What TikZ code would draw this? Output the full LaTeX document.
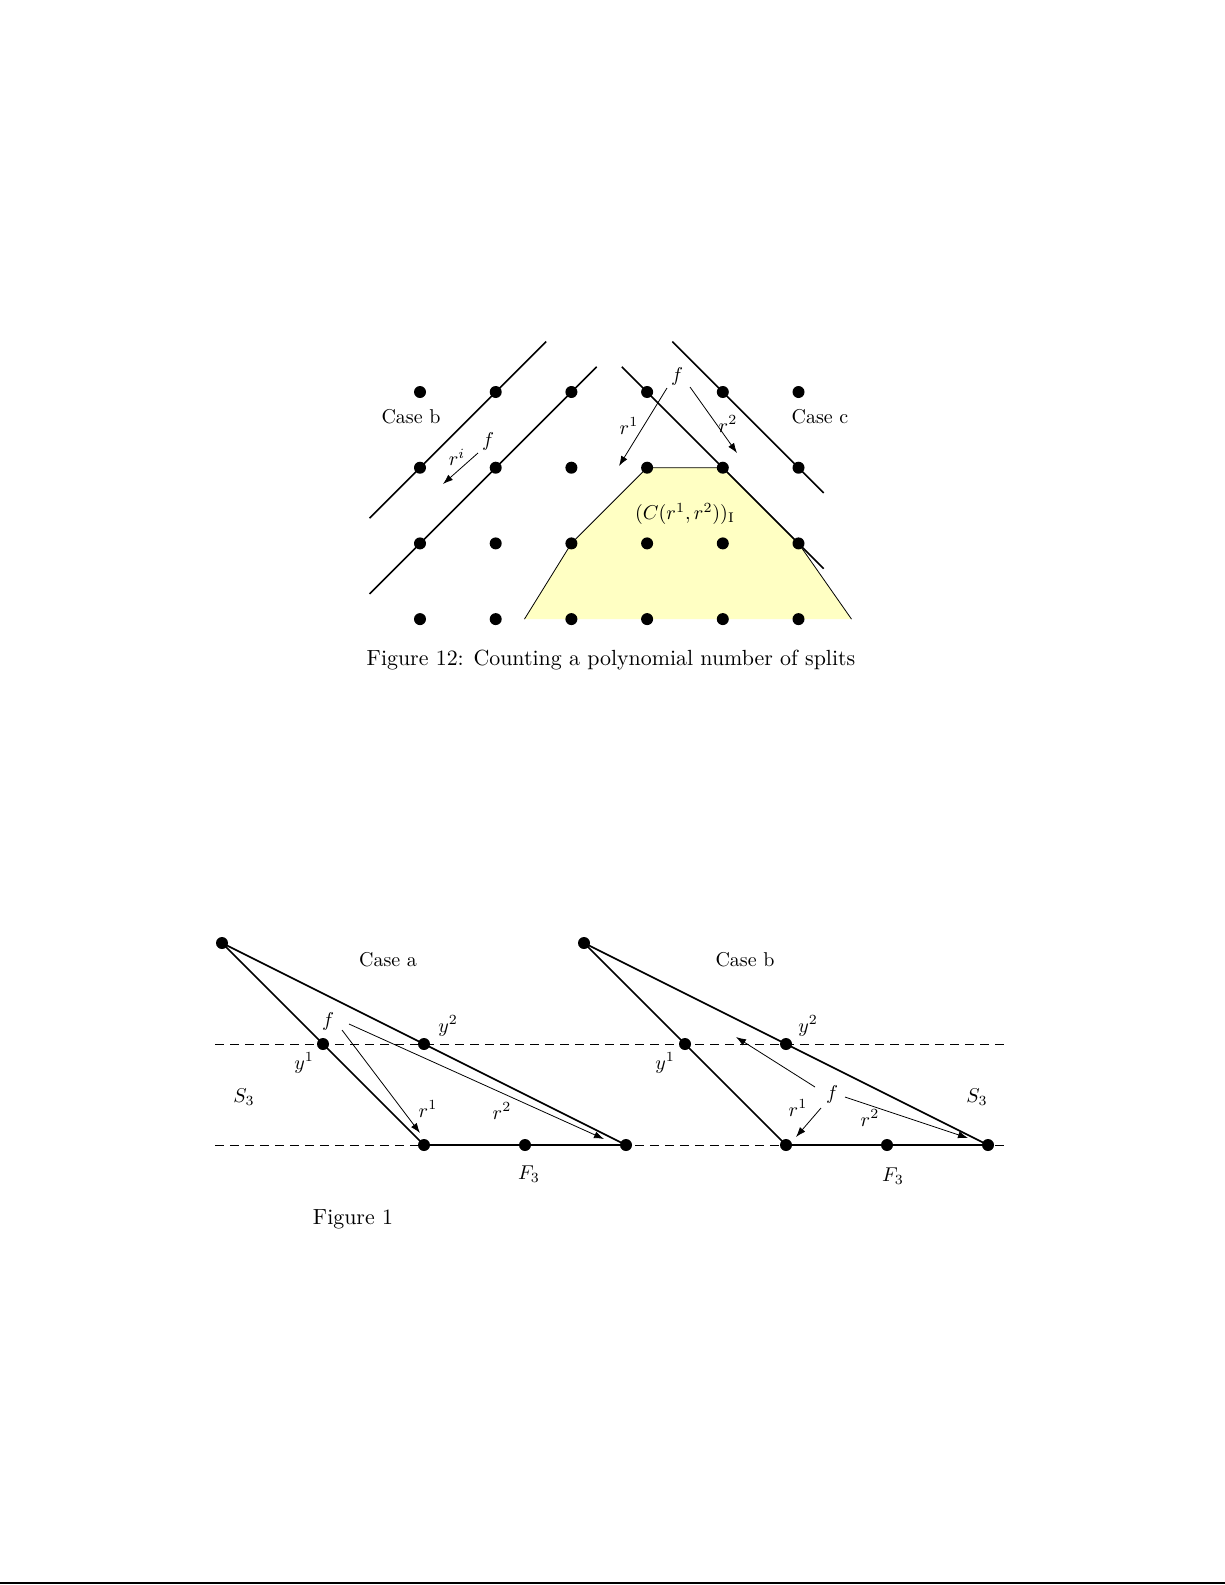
\documentclass[tikz,border=0pt]{standalone}
\usetikzlibrary{arrows.meta}
\definecolor{polyyellow}{RGB}{255,255,195}
\begin{document}
\begin{tikzpicture}[x=0.5pt,y=-0.5pt,
  dot/.style={circle,fill=black,inner sep=0pt,minimum size=6pt},
  thickline/.style={line width=0.8pt},
  thinline/.style={line width=0.4pt},
  thinarrow/.style={line width=0.4pt,-{Latex[length=5pt,width=3.5pt]}},
  dashline/.style={line width=0.4pt,dash pattern=on 4.5pt off 3pt},
  lbl/.style={inner sep=0pt},
  captxt/.style={inner sep=0pt,font=\fontsize{10.95}{13.6}\selectfont}]
\useasboundingbox (0,0) rectangle (1225,1585);
% ---------------- top figure ----------------
\begin{scope}[shift={(210pt,-196pt)},x=37.85pt,y=-37.85pt]
  \fill[polyyellow] (1.38,3) -- (2,2) -- (3,1) -- (4,1) -- (5,2) -- (5.7,3) -- cycle;
  \draw[thinline] (1.38,3) -- (2,2) -- (3,1) -- (4,1) -- (5,2) -- (5.7,3);
  \coordinate (l1a) at (-2/3,5/3);
  \coordinate (l1b) at (5/3,-2/3);
  \coordinate (l2a) at (-2/3,8/3);
  \coordinate (l2b) at (7/3,-1/3);
  \coordinate (l3a) at (8/3,-1/3);
  \coordinate (l3b) at (16/3,7/3);
  \coordinate (l4a) at (10/3,-2/3);
  \coordinate (l4b) at (16/3,4/3);
  \draw[thickline] (l1a) -- (l1b);
  \draw[thickline] (l2a) -- (l2b);
  \draw[thickline] (l3a) -- (l3b);
  \draw[thickline] (l4a) -- (l4b);
  \foreach \i in {0,...,5} \foreach \j in {0,...,3} \node[dot] (g\i\j) at (\i,\j) {};
\end{scope}
\node[lbl] (caseb1) at (411,417) {Case b};
\node[lbl] (casec1) at (820,417) {Case c};
\node[lbl] (ri) at (457,457) {$r^i$};
\node[lbl] (f1) at (488,441) {$f$};
\node[lbl] (f2) at (677,376) {$f$};
\node[lbl] (r1t) at (629,426) {$r^1$};
\node[lbl] (r2t) at (728,424) {$r^2$};
\node[lbl] (cone) at (685,514) {$(C(r^1,r^2))_{\mathrm{I}}$};
\coordinate (a1s) at (478,453); \coordinate (a1e) at (443,484);
\coordinate (a2s) at (667,388); \coordinate (a2e) at (619,466);
\coordinate (a3s) at (690,387); \coordinate (a3e) at (737,453);
\draw[thinarrow] (a1s) -- (a1e);
\draw[thinarrow] (a2s) -- (a2e);
\draw[thinarrow] (a3s) -- (a3e);
\node[captxt,anchor=base] (cap12) at (611,665) {Figure 12: Counting a polynomial number of splits};
% ---------------- bottom figure ----------------
\coordinate (d1s) at (215,1044); \coordinate (d1e) at (1008,1044);
\coordinate (d2s) at (215,1145); \coordinate (d2e) at (1008,1145);
\draw[dashline] (d1s) -- (d1e);
\draw[dashline] (d2s) -- (d2e);
% case a
\node[dot] (at) at (222,943) {};
\node[dot] (ay1) at (323,1044) {};
\node[dot] (ay2) at (424,1044) {};
\node[dot] (ab1) at (424,1145) {};
\node[dot] (ab2) at (525,1145) {};
\node[dot] (ab3) at (626,1145) {};
\draw[thickline] (at.center) -- (ay1.center) -- (ab1.center);
\draw[thickline] (at.center) -- (ay2.center) -- (ab3.center);
\draw[thickline] (ab1.center) -- (ab2.center) -- (ab3.center);
% case b
\node[dot] (bt) at (584,943) {};
\node[dot] (by1) at (685,1044) {};
\node[dot] (by2) at (786,1044) {};
\node[dot] (bb1) at (786,1145) {};
\node[dot] (bb2) at (887,1145) {};
\node[dot] (bb3) at (988,1145) {};
\draw[thickline] (bt.center) -- (by1.center) -- (bb1.center);
\draw[thickline] (bt.center) -- (by2.center) -- (bb3.center);
\draw[thickline] (bb1.center) -- (bb2.center) -- (bb3.center);
% labels case a
\node[lbl] (casea) at (388,960) {Case a};
\node[lbl] (fa) at (328,1021) {$f$};
\node[lbl] (ay2l) at (448,1026) {$y^2$};
\node[lbl] (ay1l) at (304,1063) {$y^1$};
\node[lbl] (s3a) at (244,1097) {$S_3$};
\node[lbl] (r1a) at (428,1109) {$r^1$};
\node[lbl] (r2a) at (502,1111) {$r^2$};
\node[lbl] (f3a) at (529,1174) {$F_3$};
\node[captxt] (fig1) at (353,1219) {Figure 1};
\coordinate (pa1s) at (342,1030); \coordinate (pa1e) at (420,1133);
\coordinate (pa2s) at (349,1024); \coordinate (pa2e) at (604,1139);
\draw[thinarrow] (pa1s) -- (pa1e);
\draw[thinarrow] (pa2s) -- (pa2e);
% labels case b
\node[lbl] (casebb) at (745,960) {Case b};
\node[lbl] (by2l) at (808,1026) {$y^2$};
\node[lbl] (by1l) at (665,1063) {$y^1$};
\node[lbl] (fb) at (832,1094) {$f$};
\node[lbl] (s3b) at (977,1097) {$S_3$};
\node[lbl] (r1b) at (798,1108) {$r^1$};
\node[lbl] (r2b) at (870,1118) {$r^2$};
\node[lbl] (f3b) at (893,1176) {$F_3$};
\coordinate (pb1s) at (815,1087); \coordinate (pb1e) at (736,1037);
\coordinate (pb2s) at (821,1108); \coordinate (pb2e) at (796,1137);
\coordinate (pb3s) at (845,1097); \coordinate (pb3e) at (968,1138);
\draw[thinarrow] (pb1s) -- (pb1e);
\draw[thinarrow] (pb2s) -- (pb2e);
\draw[thinarrow] (pb3s) -- (pb3e);
% page rule
\coordinate (pl) at (0,1583); \coordinate (pr) at (1225,1583);
\draw[line width=1pt] (pl) -- (pr);
\end{tikzpicture}
\end{document}
